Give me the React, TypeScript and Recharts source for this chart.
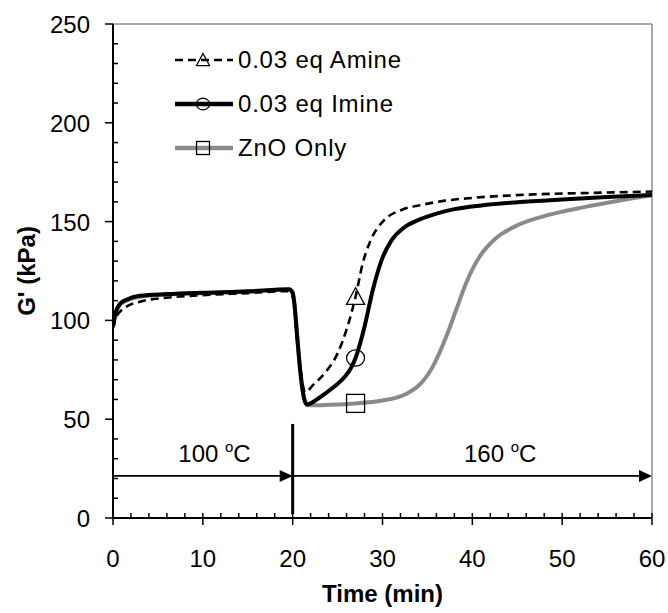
import React from 'react';
import { LineChart, Line, XAxis, YAxis, ReferenceLine, ReferenceDot } from 'recharts';

// 0.03 eq Amine (dashed black)
const amineTime = [0, 0.3, 0.8, 1.5, 3, 6, 10, 15, 19.5, 19.9, 20.2, 20.5, 20.9, 21.4, 22.2, 23.6, 25, 26.1, 27, 27.8, 28.7, 30.2, 32.1, 34.3, 37, 40, 45, 50, 55, 60];
const amineG = [96, 101, 104.5, 107, 109.5, 111.5, 112.8, 113.8, 114.8, 113.5, 107, 90, 74, 63.5, 67, 73.5, 83.3, 96.8, 112, 128.9, 140.7, 150.8, 155.9, 158.4, 160.6, 162, 163.4, 164.2, 164.7, 165.2];

// 0.03 eq Imine (solid black)
const imineTime = [0, 0.3, 0.8, 1.5, 3, 6, 10, 15, 19.6, 20, 20.2, 20.5, 20.9, 21.3, 21.6, 23, 24.5, 25.8, 26.5, 27, 28, 28.9, 29.9, 31, 32.4, 34.1, 36, 38, 41, 45, 50, 55, 60];
const imineG = [97, 104, 108.5, 110.5, 112.5, 113.3, 114, 114.7, 115.8, 114, 108, 92, 72, 60, 57.5, 61, 66, 71.5, 76, 81, 96.8, 115, 130.5, 140.5, 147, 151, 154, 156.3, 158.2, 159.8, 161.2, 162.4, 163.5];

// ZnO Only (grey)
const znoTime = [0, 0.3, 0.8, 1.5, 3, 6, 10, 15, 19.6, 20, 20.2, 20.5, 20.9, 21.3, 21.7, 24, 27, 30, 32, 33, 34.1, 35.6, 37.1, 38.2, 39.3, 40.8, 42.6, 45.2, 48.6, 52.3, 56, 60];
const znoG = [97, 103.5, 108, 110, 112, 113, 113.8, 114.5, 115.5, 113.8, 108, 92, 72, 60, 57, 57.3, 58, 59.5, 61.5, 63.7, 67.3, 76.6, 91.8, 105.3, 118.8, 132.2, 141.5, 148.5, 153.5, 157.2, 160.3, 163.3];

const xTicks = [0, 2, 4, 6, 8, 10, 12, 14, 16, 18, 20, 22, 24, 26, 28, 30, 32, 34, 36, 38, 40, 42, 44, 46, 48, 50, 52, 54, 56, 58, 60];
const yTicks = [0, 10, 20, 30, 40, 50, 60, 70, 80, 90, 100, 110, 120, 130, 140, 150, 160, 170, 180, 190, 200, 210, 220, 230, 240, 250];

const seriesNames = ['0.03 eq Amine', '0.03 eq Imine', 'ZnO Only'];
const MARKER_T = 27;

const zip = (t: number[], g: number[]) => t.map((x, i) => ({ t: x, g: g[i] }));
const amineData = zip(amineTime, amineG);
const imineData = zip(imineTime, imineG);
const znoData = zip(znoTime, znoG);

const FONT = '"Liberation Sans", Arial, sans-serif';
const GREY = '#8a8a8a';

function Marker({ kind, cx, cy, s }: { kind: string; cx: number; cy: number; s: number }) {
  const h = s / 2;
  if (kind === 'tri')
    return <polygon points={`${cx},${cy - h} ${cx - h},${cy + h * 0.85} ${cx + h},${cy + h * 0.85}`} fill="none" stroke="#000" strokeWidth={1.3} />;
  if (kind === 'circ') return <ellipse cx={cx} cy={cy} rx={h} ry={h * 0.9} fill="none" stroke="#000" strokeWidth={1.3} />;
  return <rect x={cx - h} y={cy - h} width={s} height={s} fill="none" stroke="#000" strokeWidth={1.3} />;
}

const markerDot = (kind: string) => (p: any) => {
  if (p.payload && p.payload.t === MARKER_T) {
    return <Marker key={`m-${kind}-${p.index}`} kind={kind} cx={p.cx} cy={p.cy} s={18} />;
  }
  return <g key={`m-${kind}-${p.index}`} />;
};

const XTick = (p: any) => {
  const { x, y, payload } = p;
  const major = payload.value % 10 === 0;
  return (
    <g>
      <line x1={x} x2={x} y1={y - 5} y2={major ? y + 7 : y} stroke="#000" strokeWidth={1.5} />
      {major && (
        <text x={x} y={y + 49} textAnchor="middle" fontFamily={FONT} fontSize={24} fill="#000">
          {payload.value}
        </text>
      )}
    </g>
  );
};

const YTick = (p: any) => {
  const { x, y, payload } = p;
  const major = payload.value % 50 === 0;
  return (
    <g>
      {major ? (
        <line x1={x - 8} x2={x} y1={y} y2={y} stroke="#000" strokeWidth={1.5} />
      ) : (
        <line x1={x} x2={x + 5} y1={y} y2={y} stroke="#000" strokeWidth={1.5} />
      )}
      {major && (
        <text x={x - 23} y={y + 9} textAnchor="end" fontFamily={FONT} fontSize={24} fill="#000">
          {payload.value}
        </text>
      )}
    </g>
  );
};

const XTitle = (p: any) => {
  const vb = p.viewBox || { x: 113, y: 518, width: 539 };
  return (
    <text x={vb.x + vb.width / 2} y={vb.y + 84} textAnchor="middle" fontFamily={FONT} fontSize={24} fontWeight="bold" fill="#000">
      Time (min)
    </text>
  );
};

const YTitle = (p: any) => {
  const vb = p.viewBox || { x: 53, y: 24, height: 494 };
  const cx = 35;
  const cy = vb.y + vb.height / 2;
  return (
    <text x={cx} y={cy} transform={`rotate(-90 ${cx} ${cy})`} textAnchor="middle" fontFamily={FONT} fontSize={24} fontWeight="bold" fill="#000">
      G' (kPa)
    </text>
  );
};

const arrowShape = (p: any) => {
  const { x1, y1, x2, y2 } = p;
  return (
    <g>
      <line x1={x1} y1={y1} x2={x2 - 10} y2={y2} stroke="#000" strokeWidth={1.6} />
      <polygon points={`${x2},${y2} ${x2 - 13},${y2 - 6} ${x2 - 13},${y2 + 6}`} fill="#000" />
    </g>
  );
};

const tempLabel = (value: string) => (p: any) => (
  <text x={p.cx} y={p.cy} textAnchor="middle" fontFamily={FONT} fontSize={24} fill="#000">
    {value}{' '}
    <tspan fontSize={15} dy={-10}>o</tspan>
    <tspan dy={10}>C</tspan>
  </text>
);

function LegendBox() {
  const kinds = ['tri', 'circ', 'sq'];
  return (
    <div style={{ position: 'absolute', left: 175, top: 38, fontFamily: FONT, fontSize: 24 }}>
      {seriesNames.map((n, i) => (
        <div key={n} style={{ display: 'flex', alignItems: 'center', height: 44 }}>
          <svg width={58} height={24} style={{ display: 'block' }}>
            {i === 0 && <line x1={0} x2={58} y1={12} y2={12} stroke="#000" strokeWidth={2.5} strokeDasharray="8 5" />}
            {i === 1 && <line x1={0} x2={58} y1={12} y2={12} stroke="#000" strokeWidth={4.5} />}
            {i === 2 && <line x1={0} x2={58} y1={12} y2={12} stroke={GREY} strokeWidth={4.5} />}
            <Marker kind={kinds[i]} cx={28} cy={12} s={13} />
          </svg>
          <span style={{ marginLeft: 5, whiteSpace: 'nowrap', letterSpacing: 0.8 }}>{n}</span>
        </div>
      ))}
    </div>
  );
}

export default function App() {
  return (
    <div style={{ position: 'absolute', left: 0, top: 0, width: 668, height: 613, background: '#fff' }}>
      <LineChart width={668} height={613} margin={{ top: 24, right: 16, left: 53, bottom: 35 }}>
        <XAxis
          type="number"
          dataKey="t"
          domain={[0, 60]}
          ticks={xTicks}
          interval={0}
          tickSize={0}
          tickMargin={0}
          tickLine={false}
          tick={<XTick />}
          height={60}
          axisLine={{ stroke: '#000', strokeWidth: 2 }}
          label={<XTitle />}
          allowDataOverflow
        />
        <YAxis
          type="number"
          dataKey="g"
          domain={[0, 250]}
          ticks={yTicks}
          interval={0}
          tickSize={0}
          tickMargin={0}
          tickLine={false}
          tick={<YTick />}
          width={60}
          axisLine={{ stroke: '#000', strokeWidth: 2 }}
          label={<YTitle />}
          allowDataOverflow
        />
        <ReferenceLine y={250} stroke="#555" strokeWidth={1} />
        <ReferenceLine x={60} stroke="#555" strokeWidth={1} />

        <ReferenceLine segment={[{ x: 0, y: 21.3 }, { x: 20, y: 21.3 }]} shape={arrowShape} />
        <ReferenceLine segment={[{ x: 20, y: 21.3 }, { x: 60, y: 21.3 }]} shape={arrowShape} />
        <ReferenceLine segment={[{ x: 20, y: 2 }, { x: 20, y: 47.6 }]} stroke="#000" strokeWidth={3} />
        <ReferenceDot x={11.3} y={28.3} shape={tempLabel('100')} />
        <ReferenceDot x={43.1} y={28.3} shape={tempLabel('160')} />

        <Line data={znoData} dataKey="g" type="monotone" stroke={GREY} strokeWidth={4} dot={markerDot('sq')} activeDot={false} isAnimationActive={false} />
        <Line data={amineData} dataKey="g" type="monotone" stroke="#000" strokeWidth={2.6} strokeDasharray="8 5" dot={markerDot('tri')} activeDot={false} isAnimationActive={false} />
        <Line data={imineData} dataKey="g" type="monotone" stroke="#000" strokeWidth={4} dot={markerDot('circ')} activeDot={false} isAnimationActive={false} />
      </LineChart>
      <LegendBox />
    </div>
  );
}
